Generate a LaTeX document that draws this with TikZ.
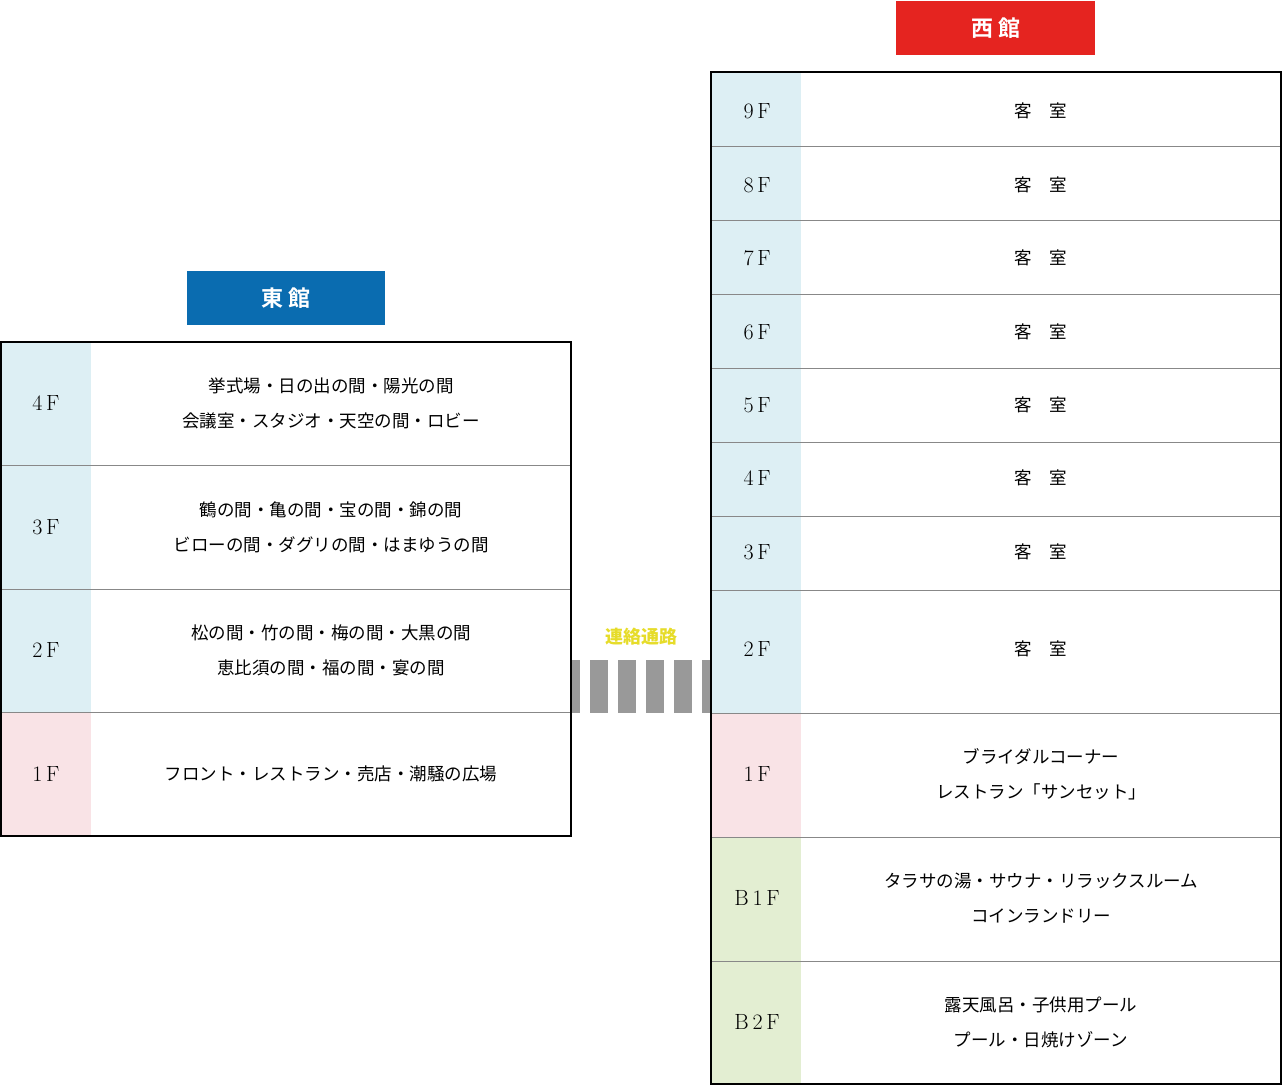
\documentclass[tikz,border=0pt]{standalone}
\usepackage{fontspec}
\newfontfamily\jp{Noto Sans CJK JP}
\newfontfamily\jpb{Noto Sans CJK JP Bold}
\definecolor{lb}{HTML}{DDEFF4}
\definecolor{pk}{HTML}{F9E3E6}
\definecolor{gr}{HTML}{E3EED2}
\definecolor{eb}{HTML}{0A6CB0}
\definecolor{wr}{HTML}{E52420}
\definecolor{yl}{HTML}{E6DC2A}
\definecolor{ln}{HTML}{888888}
\begin{document}
\begin{tikzpicture}[x=1pt,y=-1pt,
  fl/.style={font=\fontsize{22}{22}\selectfont},
  tx/.style={font=\jp\fontsize{17.5}{35}\selectfont,align=center},
  ttl/.style={text=white,font=\jpb\fontsize{22}{22}\selectfont}]
\useasboundingbox (0,0) rectangle (1282,1086);
% bridge
\foreach \a/\b in {572/580,590/608,618/636,646/664,674/692,702/711}
  \fill[gray!80] (\a,660) rectangle (\b,713);
\node[font=\jp\bfseries\fontsize{18}{18}\selectfont,text=yl] (bridge) at (641,637) {連絡通路};
% east
\node[fill=eb,minimum width=198pt,minimum height=54pt,inner sep=0,ttl] (east) at (286,298) {東 館};
\fill[lb] (1,342) rectangle (91,712);
\fill[pk] (1,712) rectangle (91,836);
\foreach \y in {465,589,712} \draw[ln] (1,\y) -- (571,\y);
\draw[line width=1.2pt] (1,342) rectangle (571,836);
\foreach \t/\y/\c in {4\,F/403/{挙式場・日の出の間・陽光の間\\会議室・スタジオ・天空の間・ロビー},
  3\,F/527/{鶴の間・亀の間・宝の間・錦の間\\ビローの間・ダグリの間・はまゆうの間},
  2\,F/650/{松の間・竹の間・梅の間・大黒の間\\恵比須の間・福の間・宴の間},
  1\,F/774/{フロント・レストラン・売店・潮騒の広場}}{
  \node[fl] at (46,\y) {\t};
  \node[tx] at (331,\y) {\c};}
% west
\node[fill=wr,minimum width=199pt,minimum height=54pt,inner sep=0,ttl] (west) at (995.5,28) {西 館};
\fill[lb] (711,72) rectangle (801,713);
\fill[pk] (711,713) rectangle (801,837);
\fill[gr] (711,837) rectangle (801,1084);
\foreach \y in {146,220,294,368,442,516,590,713,837,961} \draw[ln] (711,\y) -- (1281,\y);
\draw[line width=1.2pt] (711,72) rectangle (1281,1084);
\foreach \t/\y in {9/111,8/185,7/258,6/332,5/405,4/478,3/552,2/649}{
  \node[fl] at (757,\y) {\t\,F};
  \node[tx] at (1041,\y) {客\quad 室};}
\node[fl] at (757,774) {1\,F};
\node[tx] at (1041,774) {ブライダルコーナー\\レストラン「サンセット」};
\node[fl] at (757,898) {B\,1\,F};
\node[tx] at (1041,898) {タラサの湯・サウナ・リラックスルーム\\コインランドリー};
\node[fl] at (757,1022) {B\,2\,F};
\node[tx] at (1041,1022) {露天風呂・子供用プール\\プール・日焼けゾーン};
\end{tikzpicture}
\end{document}
